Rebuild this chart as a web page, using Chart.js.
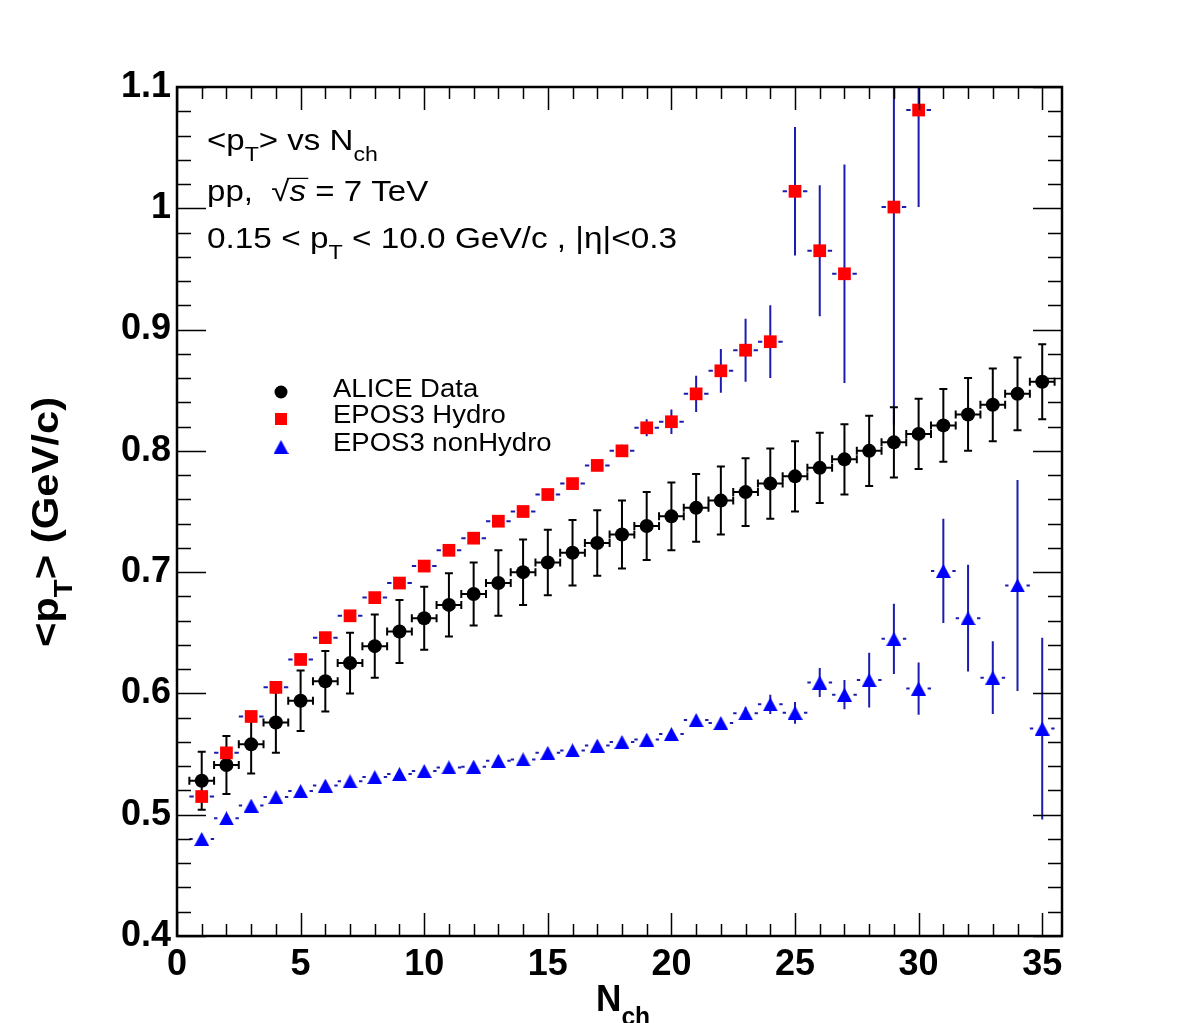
<!DOCTYPE html>
<html>
<head>
<meta charset="utf-8">
<script src="https://cdn.jsdelivr.net/npm/chart.js@4.4.1/dist/chart.umd.min.js"></script>
<style>
  body { margin: 0; background: #fff; }
  #wrap { width: 1182px; height: 1023px; }
</style>
</head>
<body>
<div id="wrap"><canvas id="graph"></canvas></div>
<script>
// N_ch bins
const nch = [1,2,3,4,5,6,7,8,9,10,11,12,13,14,15,16,17,18,19,20,21,22,23,24,25,26,27,28,29,30,31,32,33,34,35];

// ALICE data <pT>
const alice = [0.528,0.541,0.558,0.576,0.594,0.610,0.625,0.639,0.651,0.662,0.673,0.682,0.691,0.700,0.708,0.716,0.724,0.731,0.738,0.746,0.753,0.759,0.766,0.773,0.779,0.786,0.793,0.800,0.807,0.814,0.821,0.830,0.838,0.847,0.857];
const aliceErr = [0.024,0.024,0.024,0.025,0.025,0.025,0.025,0.026,0.026,0.026,0.026,0.026,0.027,0.027,0.027,0.027,0.027,0.028,0.028,0.028,0.028,0.028,0.028,0.029,0.029,0.029,0.029,0.029,0.029,0.029,0.030,0.030,0.030,0.030,0.031];

// EPOS3 hydro (no entries at 28 and above 30)
const hydro = [0.515,0.551,0.581,0.605,0.628,0.646,0.664,0.679,0.691,0.705,0.718,0.728,0.742,0.750,0.764,0.773,0.788,0.800,0.819,0.824,0.847,0.866,0.883,0.890,1.014,0.965,0.946,null,1.001,1.081,null,null,null,null,null];
const hydroErr = [0.003,0.003,0.003,0.003,0.003,0.003,0.003,0.003,0.003,0.003,0.003,0.003,0.003,0.003,0.003,0.003,0.004,0.005,0.007,0.010,0.015,0.018,0.026,0.030,0.053,0.054,0.090,null,0.180,0.080,null,null,null,null,null];

// EPOS3 non-hydro
const nonHydro = [0.480,0.497,0.5075,0.5146,0.5195,0.524,0.5275,0.531,0.5335,0.536,0.539,0.5396,0.5445,0.5456,0.551,0.553,0.557,0.560,0.562,0.5665,0.578,0.5756,0.5836,0.591,0.584,0.609,0.599,0.611,0.645,0.604,0.701,0.662,0.613,0.689,0.571];
const nonHydroErr = [0.003,0.003,0.003,0.003,0.003,0.003,0.003,0.003,0.003,0.003,0.003,0.003,0.003,0.003,0.003,0.003,0.003,0.003,0.003,0.003,0.004,0.004,0.005,0.008,0.009,0.012,0.012,0.0225,0.029,0.0215,0.043,0.044,0.030,0.087,0.075];

const binHalf = 0.5;
const FONT = '"Liberation Sans", Helvetica, Arial, sans-serif';
const errBlue = '#1c1cae';

function pts(ys, errs) {
  const out = [];
  nch.forEach((x, i) => { if (ys[i] !== null) out.push({x: x, y: ys[i], e: errs[i]}); });
  return out;
}

// centred triangle marker
function triangleImg(w, h, color) {
  const c = document.createElement('canvas');
  c.width = w; c.height = h;
  const g = c.getContext('2d');
  g.fillStyle = color;
  g.beginPath();
  g.moveTo(w / 2, 0); g.lineTo(w, h); g.lineTo(0, h); g.closePath();
  g.fill();
  return c;
}
const tri = triangleImg(15, 14, '#0000ff');

// error bars, drawn under the markers
const errorBars = {
  id: 'errorBars',
  beforeDatasetsDraw(chart) {
    const {ctx, chartArea: a, scales: {x, y}} = chart;
    ctx.save();
    ctx.beginPath();
    ctx.rect(a.left, a.top, a.right - a.left, a.bottom - a.top);
    ctx.clip();
    chart.data.datasets.forEach(ds => {
      ctx.strokeStyle = ds.barColor;
      ctx.lineWidth = 2;
      ds.data.forEach(p => {
        const px = x.getPixelForValue(p.x);
        const py = y.getPixelForValue(p.y);
        const y1 = y.getPixelForValue(p.y + p.e);
        const y2 = y.getPixelForValue(p.y - p.e);
        const xl = x.getPixelForValue(p.x - binHalf);
        const xr = x.getPixelForValue(p.x + binHalf);
        ctx.beginPath();
        ctx.moveTo(px, y1); ctx.lineTo(px, y2);
        if (ds.caps) {
          ctx.moveTo(xl, py); ctx.lineTo(xr, py);
          ctx.moveTo(px - 4, y1); ctx.lineTo(px + 4, y1);
          ctx.moveTo(px - 4, y2); ctx.lineTo(px + 4, y2);
          ctx.moveTo(xl, py - 4); ctx.lineTo(xl, py + 4);
          ctx.moveTo(xr, py - 4); ctx.lineTo(xr, py + 4);
        } else {
          const gap = ds.gap;
          ctx.moveTo(xl, py); ctx.lineTo(px - gap, py);
          ctx.moveTo(px + gap, py); ctx.lineTo(xr, py);
        }
        ctx.stroke();
      });
    });
    ctx.restore();
  }
};

// frame with inner ticks on all four sides
const frame = {
  id: 'frame',
  afterDatasetsDraw(chart) {
    const {ctx, chartArea: a, scales: {x, y}} = chart;
    ctx.save();
    ctx.strokeStyle = '#000';
    ctx.lineWidth = 1.5;
    ctx.beginPath();
    for (let v = 0; v <= 35; v++) {
      const px = Math.round(x.getPixelForValue(v)) + 0.5;
      const len = v % 5 === 0 ? 23 : 12;
      ctx.moveTo(px, a.bottom); ctx.lineTo(px, a.bottom - len);
      ctx.moveTo(px, a.top); ctx.lineTo(px, a.top + len);
    }
    for (let k = 0; k <= 35; k++) {
      const py = Math.round(y.getPixelForValue(0.4 + k * 0.02)) + 0.5;
      const len = k % 5 === 0 ? 29 : 14;
      ctx.moveTo(a.left, py); ctx.lineTo(a.left + len, py);
      ctx.moveTo(a.right, py); ctx.lineTo(a.right - len, py);
    }
    ctx.stroke();
    ctx.lineWidth = 2.5;
    ctx.strokeRect(a.left, a.top, a.right - a.left, a.bottom - a.top);
    ctx.restore();
  }
};

// text pieces with sub/italic, stretched horizontally by sx
function partsWidth(ctx, parts, size, bold) {
  let w = 0;
  parts.forEach(p => {
    ctx.font = (p.italic ? 'italic ' : '') + (bold ? 'bold ' : '') + (p.sub ? size * 0.7 : size) + 'px ' + FONT;
    w += ctx.measureText(p.t).width;
  });
  return w;
}
function rich(ctx, x, y, parts, size, bold, sx) {
  ctx.save();
  ctx.translate(x, y);
  ctx.scale(sx || 1, 1);
  let cx = 0;
  parts.forEach(p => {
    const s = p.sub ? size * 0.7 : size;
    ctx.font = (p.italic ? 'italic ' : '') + (bold ? 'bold ' : '') + s + 'px ' + FONT;
    const dy = p.sub ? size * 0.38 : 0;
    ctx.fillText(p.t, cx, dy);
    const w = ctx.measureText(p.t).width;
    if (p.over) {
      ctx.lineWidth = 1.2;
      ctx.beginPath();
      ctx.moveTo(cx - 2, -size * 0.78);
      ctx.lineTo(cx + w + 2, -size * 0.78);
      ctx.stroke();
    }
    cx += w;
  });
  ctx.restore();
}

const labels = {
  id: 'labels',
  afterDraw(chart) {
    const {ctx} = chart;
    ctx.save();
    ctx.fillStyle = '#000';
    ctx.strokeStyle = '#000';
    ctx.textBaseline = 'alphabetic';
    ctx.textAlign = 'left';

    rich(ctx, 207, 150, [{t: '<p'}, {t: 'T', sub: true}, {t: '> vs N'}, {t: 'ch', sub: true}], 29, false, 1.14);
    rich(ctx, 207, 201, [{t: 'pp,  √'}, {t: 's', italic: true, over: true}, {t: ' = 7 TeV'}], 29, false, 1.14);
    rich(ctx, 207, 248, [{t: '0.15 < p'}, {t: 'T', sub: true}, {t: ' < 10.0 GeV/c , |η|<0.3'}], 29, false, 1.15);

    // legend
    const lx = 281;
    ctx.fillStyle = '#000';
    ctx.beginPath(); ctx.arc(lx, 392, 6.5, 0, Math.PI * 2); ctx.fill();
    ctx.fillStyle = '#ff0000';
    ctx.fillRect(lx - 6, 413, 12, 12);
    ctx.drawImage(tri, lx - 7.5, 440);
    ctx.fillStyle = '#000';
    rich(ctx, 333, 397, [{t: 'ALICE Data'}], 25, false, 1.1);
    rich(ctx, 333, 423, [{t: 'EPOS3 Hydro'}], 25, false, 1.1);
    rich(ctx, 333, 451, [{t: 'EPOS3 nonHydro'}], 25, false, 1.1);

    // axis titles
    ctx.save();
    ctx.translate(58, 522);
    ctx.rotate(-Math.PI / 2);
    const parts = [{t: '<p'}, {t: 'T', sub: true}, {t: '> (GeV/c)'}];
    const sx = 1.13;
    const w = partsWidth(ctx, parts, 37, true) * sx;
    rich(ctx, -w / 2, 0, parts, 37, true, sx);
    ctx.restore();

    rich(ctx, 596, 1011, [{t: 'N'}, {t: 'ch', sub: true}], 37, true, 0.95);
    ctx.restore();
  }
};

new Chart(document.getElementById('graph'), {
  type: 'scatter',
  data: {
    datasets: [
      {
        label: 'EPOS3 nonHydro',
        data: pts(nonHydro, nonHydroErr),
        pointStyle: tri,
        barColor: errBlue,
        gap: 9
      },
      {
        label: 'EPOS3 Hydro',
        data: pts(hydro, hydroErr),
        pointStyle: 'rect',
        pointRadius: 9,
        backgroundColor: '#ff0000',
        borderWidth: 0,
        barColor: errBlue,
        gap: 8
      },
      {
        label: 'ALICE Data',
        data: pts(alice, aliceErr),
        pointStyle: 'circle',
        pointRadius: 7,
        backgroundColor: '#000',
        borderWidth: 0,
        barColor: '#000',
        caps: true
      }
    ]
  },
  options: {
    responsive: true,
    maintainAspectRatio: false,
    animation: false,
    events: [],
    layout: { padding: { left: 0, top: 87, right: 120, bottom: 0 } },
    plugins: { legend: { display: false }, tooltip: { enabled: false } },
    scales: {
      x: {
        type: 'linear',
        min: 0,
        max: 35.8,
        grid: { display: false, drawTicks: false },
        border: { display: false },
        afterFit(scale) { scale.height = 87; },
        ticks: {
          stepSize: 5,
          includeBounds: false,
          padding: 7,
          color: '#000',
          font: { family: FONT, size: 36, weight: 'bold' }
        }
      },
      y: {
        type: 'linear',
        min: 0.4,
        max: 1.1,
        grid: { display: false, drawTicks: false },
        border: { display: false },
        afterFit(scale) { scale.width = 177; },
        ticks: {
          stepSize: 0.1,
          padding: 6,
          color: '#000',
          font: { family: FONT, size: 36, weight: 'bold' },
          callback: v => String(+v.toFixed(1))
        }
      }
    }
  },
  plugins: [errorBars, frame, labels]
});
</script>
</body>
</html>
